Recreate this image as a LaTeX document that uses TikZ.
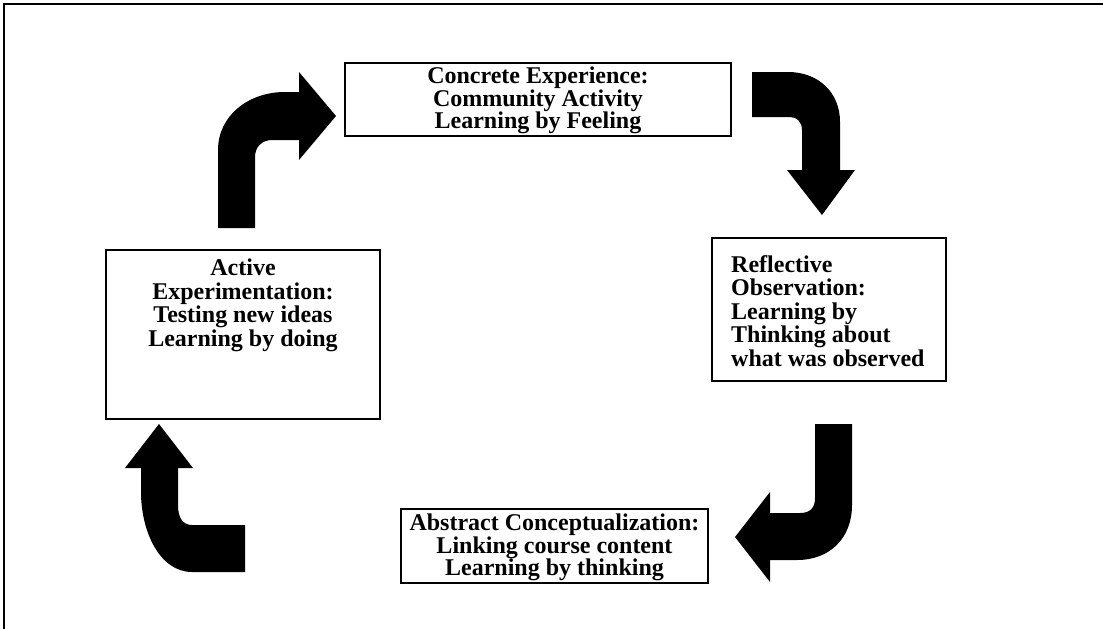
\documentclass[tikz,border=0pt]{standalone}
\usepackage{fontspec}
\setmainfont{Liberation Serif}
\begin{document}
\begin{tikzpicture}[x=1pt,y=-1pt,
  frame/.style={line width=2pt},
  box/.style={draw,line width=2pt,fill=white,inner sep=0pt},
  txt/.style={font=\fontsize{24}{23.5}\selectfont\bfseries,inner sep=0pt,anchor=north},
  tighttxt/.style={font=\fontsize{24}{22.2}\selectfont\bfseries,inner sep=0pt,anchor=north},
  blk/.style={fill=black,draw=none}]
\useasboundingbox (0,0) rectangle (1103,629);
% outer frame (top and left only)
\coordinate (fTL) at (4,4);
\coordinate (fTR) at (1103,4);
\coordinate (fBL) at (4,629);
\draw[frame] (fTR) -- (fTL) -- (fBL);
% boxes
\node[box,minimum width=386pt,minimum height=73pt] (ce) at (538,99.5) {};
\node[tighttxt,align=center] (cet) at ([yshift=-5pt]ce.north) {Concrete Experience:\\Community Activity\\Learning by Feeling};
\node[box,minimum width=234pt,minimum height=143pt] (ro) at (829,309.5) {};
\node[txt,align=left,anchor=north west] (rot) at ([xshift=20pt,yshift=-18pt]ro.north west) {Reflective\\Observation:\\Learning by\\Thinking about\\what was observed};
\node[box,minimum width=307pt,minimum height=74pt] (ac) at (554.5,546) {};
\node[tighttxt,align=center] (act) at ([yshift=-6pt]ac.north) {Abstract Conceptualization:\\Linking course content\\Learning by thinking};
\node[box,minimum width=274pt,minimum height=169pt] (ae) at (243,334.5) {};
\node[txt,align=center] (aet) at ([yshift=-10pt]ae.north) {Active\\Experimentation:\\Testing new ideas\\Learning by doing};
% bent block arrows
% 1: Active -> Concrete
\fill[blk] (218,228) -- (218,150) .. controls (218,116) and (248,92) .. (285,92)
  -- (299,92) -- (299,72) -- (336,116) -- (299,160) -- (299,140) -- (272,140)
  .. controls (262,140) and (255,147) .. (255,157) -- (255,228) -- cycle;
% 2: Concrete -> Reflective
\fill[blk] (752,72) -- (788,72) .. controls (818,72) and (840,92) .. (840,122)
  -- (840,170) -- (855,170) -- (822,215) -- (787,170) -- (802,170) -- (802,130)
  .. controls (802,122) and (797,117) .. (790,117) -- (752,117) -- cycle;
% 3: Reflective -> Abstract
\fill[blk] (815,424) -- (852,424) -- (852,505) .. controls (852,538) and (830,560) .. (797,560)
  -- (770,560) -- (770,582) -- (735,537) -- (770,492) -- (770,513) -- (800,513)
  .. controls (810,513) and (815,508) .. (815,498) -- cycle;
% 4: Abstract -> Active
\fill[blk] (245,525) -- (245,572) -- (192,572) .. controls (160,572) and (141,532) .. (141,492)
  -- (141,468) -- (125,468) -- (159,424) -- (193,468) -- (178,468) -- (178,505)
  .. controls (178,518) and (183,525) .. (192,525) -- cycle;
\end{tikzpicture}
\end{document}
